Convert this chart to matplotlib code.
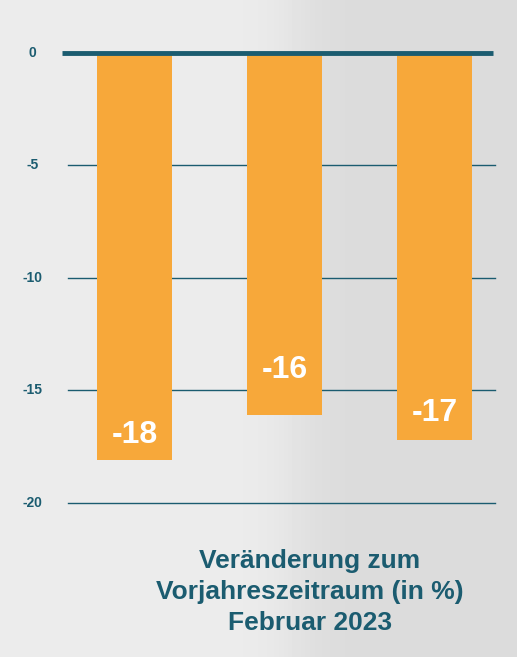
import numpy as np
import matplotlib.pyplot as plt

plt.rcParams['font.family'] = ['Liberation Sans', 'DejaVu Sans']

categories = ['A', 'B', 'C']
values = [-18.1, -16.1, -17.2]
labels = ['-18', '-16', '-17']
label_y = [-17.0, -14.1, -16.0]
yticks = [0, -5, -10, -15, -20]

teal = '#1b5c70'
orange = '#f7a83a'

fig = plt.figure(figsize=(5.17, 6.57), dpi=100)

# background with soft gradient
bg = fig.add_axes([0, 0, 1, 1])
grad = np.linspace(0, 1, 517)
shade = 0.925 - 0.065 / (1 + np.exp(-(grad - 0.57) * 30))
bg.imshow(np.tile(shade, (10, 1)), cmap='gray', vmin=0, vmax=1, aspect='auto', extent=[0, 1, 0, 1])
bg.axis('off')

ax = fig.add_axes([68 / 517, 1 - 503 / 657, 427 / 517, 457 / 657])
ax.patch.set_alpha(0)
x = np.arange(len(categories))
ax.bar(x, values, width=0.5, color=orange, zorder=2)
ax.set_xlim(-0.443, 2.403)
ax.set_ylim(-20, 0.31)

for v in yticks[1:]:
    ax.axhline(v, color=teal, lw=1, zorder=1, clip_on=False)
ax.plot([-0.48, 2.39], [0, 0], color=teal, lw=3.5, zorder=3, clip_on=False, solid_capstyle='butt')

for xi, ly, lab in zip(x, label_y, labels):
    ax.text(xi, ly, lab, ha='center', va='center', color='white',
            fontsize=23, fontweight='bold', zorder=4)

for v in yticks:
    ax.text(-0.68, v, str(v), ha='center', va='center', color=teal,
            fontsize=10, fontweight='bold')

for s in ax.spines.values():
    s.set_visible(False)
ax.set_xticks([])
ax.set_yticks([])

fig.text(310 / 517, 1 - 592 / 657, 'Veränderung zum\nVorjahreszeitraum (in %)\nFebruar 2023',
         ha='center', va='center', color=teal, fontsize=19, fontweight='bold', linespacing=1.35)

fig.savefig('out.png', dpi=100)
